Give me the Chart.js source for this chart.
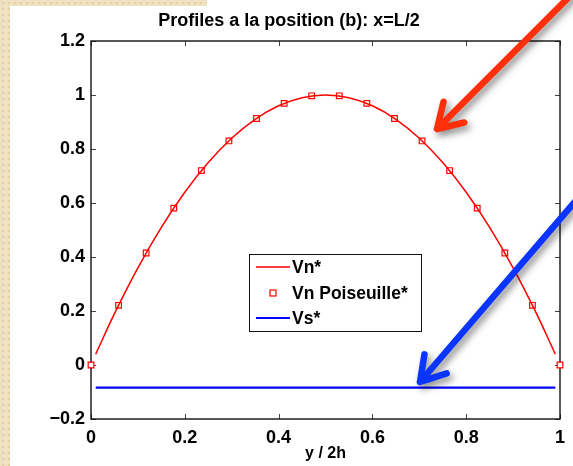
<!DOCTYPE html>
<html>
<head>
<meta charset="utf-8">
<script src="https://cdn.jsdelivr.net/npm/chart.js@4.4.0/dist/chart.umd.min.js"></script>
<style>
  html, body { margin: 0; padding: 0; }
  body {
    width: 573px; height: 466px; overflow: hidden;
    background-color: #efe1c1;
    background-image: radial-gradient(circle, #e3cfa3 1px, transparent 1.6px);
    background-size: 6px 6px;
  }
  #wrap { position: absolute; left: 0; top: 0; width: 573px; height: 466px; }
</style>
</head>
<body>
<div id="wrap"><canvas id="c"></canvas></div>
<script>
// data
var vnX = [0.01, 0.05, 0.1, 0.15, 0.2, 0.25, 0.3, 0.35, 0.4, 0.45, 0.5, 0.55, 0.6, 0.65, 0.7, 0.75, 0.8, 0.85, 0.9, 0.95, 0.99];
var vnY = [0.04, 0.19, 0.36, 0.51, 0.64, 0.75, 0.84, 0.91, 0.96, 0.99, 1.0, 0.99, 0.96, 0.91, 0.84, 0.75, 0.64, 0.51, 0.36, 0.19, 0.04];

var poisX = [0, 0.0588, 0.1176, 0.1765, 0.2353, 0.2941, 0.3529, 0.4118, 0.4706, 0.5294, 0.5882, 0.6471, 0.7059, 0.7647, 0.8235, 0.8824, 0.9412, 1];
var poisY = [0, 0.221, 0.415, 0.581, 0.720, 0.830, 0.913, 0.969, 0.997, 0.997, 0.969, 0.913, 0.830, 0.720, 0.581, 0.415, 0.221, 0];

var vsX = [0.01, 0.99];
var vsY = [-0.084, -0.084];

var xTicks = [0, 0.2, 0.4, 0.6, 0.8, 1];
var yTicks = [-0.2, 0, 0.2, 0.4, 0.6, 0.8, 1, 1.2];

var labels = ["Vn*", "Vn Poiseuille*", "Vs*"];
var FONT = "'Liberation Sans', Arial, Helvetica, sans-serif";

function pts(xs, ys) {
  return xs.map(function (x, i) { return { x: x, y: ys[i] }; });
}
function fmt(v) {
  var s = String(Number(v.toFixed(1)));
  return s.replace('-', '\u2212');
}

// white sheet over the beige page
var sheetPlugin = {
  id: 'sheet',
  beforeDraw: function (chart) {
    var ctx = chart.ctx;
    ctx.save();
    ctx.fillStyle = '#ffffff';
    ctx.fillRect(10, 6, chart.width - 10, chart.height - 6);
    ctx.fillRect(207, 0, chart.width - 207, 6);
    ctx.restore();
  }
};

// matlab style box with inward ticks
var boxPlugin = {
  id: 'box',
  beforeDatasetsDraw: function (chart) {
    var ctx = chart.ctx, a = chart.chartArea;
    var xs = chart.scales.x, ys = chart.scales.y;
    ctx.save();
    ctx.strokeStyle = '#444';
    ctx.lineWidth = 1;
    xTicks.forEach(function (t) {
      var px = Math.round(xs.getPixelForValue(t)) + 0.5;
      ctx.beginPath();
      ctx.moveTo(px, a.bottom); ctx.lineTo(px, a.bottom - 5);
      ctx.moveTo(px, a.top); ctx.lineTo(px, a.top + 5);
      ctx.stroke();
    });
    yTicks.forEach(function (t) {
      var py = Math.round(ys.getPixelForValue(t)) + 0.5;
      ctx.beginPath();
      ctx.moveTo(a.left, py); ctx.lineTo(a.left + 5, py);
      ctx.moveTo(a.right, py); ctx.lineTo(a.right - 5, py);
      ctx.stroke();
    });
    ctx.strokeStyle = '#111';
    ctx.lineWidth = 1.4;
    ctx.strokeRect(a.left, a.top, a.right - a.left, a.bottom - a.top);
    ctx.restore();
  }
};

var legendPlugin = {
  id: 'boxLegend',
  afterDraw: function (chart) {
    var ctx = chart.ctx;
    var L = 249, T = 254, R = 421, B = 331;
    ctx.save();
    ctx.fillStyle = '#fff';
    ctx.fillRect(L, T, R - L, B - T);
    ctx.strokeStyle = '#111';
    ctx.lineWidth = 1;
    ctx.strokeRect(L + 0.5, T + 0.5, R - L, B - T);
    var rows = [267, 293, 318];
    var ds = chart.data.datasets;
    ctx.font = 'bold 17.5px ' + FONT;
    ctx.textBaseline = 'middle';
    ctx.fillStyle = '#000';
    rows.forEach(function (y, i) {
      var d = ds[i];
      if (i === 1) {
        ctx.strokeStyle = d.borderColor;
        ctx.lineWidth = 1.2;
        ctx.fillStyle = '#fff';
        ctx.fillRect(270, y - 3, 6, 6);
        ctx.strokeRect(270, y - 3, 6, 6);
      } else {
        ctx.strokeStyle = d.borderColor;
        ctx.lineWidth = d.borderWidth;
        ctx.beginPath();
        ctx.moveTo(256, y); ctx.lineTo(290, y);
        ctx.stroke();
      }
      ctx.fillStyle = '#000';
      ctx.fillText(d.label, 292, y + 1);
    });
    ctx.restore();
  }
};

// the two pointing arrows pasted on the figure
var arrowPlugin = {
  id: 'arrows',
  afterDraw: function (chart) {
    var ctx = chart.ctx;
    function arrow(x0, y0, x1, y1, color) {
      var ang = Math.atan2(y1 - y0, x1 - x0);
      var len = 28, spread = 0.55;
      ctx.save();
      ctx.shadowColor = 'rgba(0,0,0,0.45)';
      ctx.shadowBlur = 7;
      ctx.shadowOffsetX = 3;
      ctx.shadowOffsetY = 4;
      ctx.strokeStyle = color;
      ctx.lineWidth = 6.5;
      ctx.lineCap = 'round';
      ctx.lineJoin = 'round';
      ctx.beginPath();
      ctx.moveTo(x0, y0);
      ctx.lineTo(x1, y1);
      ctx.moveTo(x1 - len * Math.cos(ang - spread), y1 - len * Math.sin(ang - spread));
      ctx.lineTo(x1, y1);
      ctx.lineTo(x1 - len * Math.cos(ang + spread), y1 - len * Math.sin(ang + spread));
      ctx.stroke();
      ctx.restore();
    }
    arrow(578, -12, 437, 129, '#ff2f0a');
    arrow(585, 190, 420, 382, '#0a34ff');
  }
};

new Chart(document.getElementById('c'), {
  type: 'line',
  data: {
    datasets: [
      {
        label: labels[0],
        data: pts(vnX, vnY),
        borderColor: '#ff0000',
        borderWidth: 1.5,
        pointRadius: 0,
        cubicInterpolationMode: 'monotone',
        fill: false
      },
      {
        label: labels[1],
        data: pts(poisX, poisY),
        showLine: false,
        borderColor: '#ff0000',
        backgroundColor: '#ffffff',
        borderWidth: 1.2,
        pointStyle: 'rect',
        pointRadius: 4,
        clip: false
      },
      {
        label: labels[2],
        data: pts(vsX, vsY),
        borderColor: '#0000ff',
        borderWidth: 2.2,
        pointRadius: 0,
        fill: false
      }
    ]
  },
  options: {
    responsive: true,
    maintainAspectRatio: false,
    animation: false,
    events: [],
    layout: { padding: { left: 10, right: 5, top: 0, bottom: 0 } },
    plugins: {
      legend: { display: false },
      tooltip: { enabled: false },
      title: {
        display: true,
        text: 'Profiles a la position (b): x=L/2',
        color: '#000',
        font: { family: FONT, size: 18, weight: 'bold', lineHeight: 1.2 },
        padding: { top: 10, bottom: 9.4 }
      }
    },
    scales: {
      x: {
        type: 'linear',
        min: 0, max: 1,
        grid: { display: false, drawTicks: false },
        border: { display: false },
        afterFit: function (s) { s.height = 47; },
        afterBuildTicks: function (s) { s.ticks = xTicks.map(function (v) { return { value: v }; }); },
        ticks: {
          color: '#000',
          padding: 8,
          maxRotation: 0,
          font: { family: FONT, size: 18, weight: 'bold' },
          callback: function (v) { return fmt(v); }
        },
        title: {
          display: true,
          text: 'y / 2h',
          color: '#000',
          font: { family: FONT, size: 16, weight: 'bold', lineHeight: 1.2 },
          padding: { top: 0, bottom: 3 }
        }
      },
      y: {
        min: -0.2, max: 1.2,
        grid: { display: false, drawTicks: false },
        border: { display: false },
        afterFit: function (s) { s.width = 81; },
        afterBuildTicks: function (s) { s.ticks = yTicks.map(function (v) { return { value: v }; }); },
        ticks: {
          color: '#000',
          padding: 6,
          font: { family: FONT, size: 18, weight: 'bold' },
          callback: function (v) { return fmt(v); }
        }
      }
    }
  },
  plugins: [sheetPlugin, boxPlugin, legendPlugin, arrowPlugin]
});
</script>
</body>
</html>
